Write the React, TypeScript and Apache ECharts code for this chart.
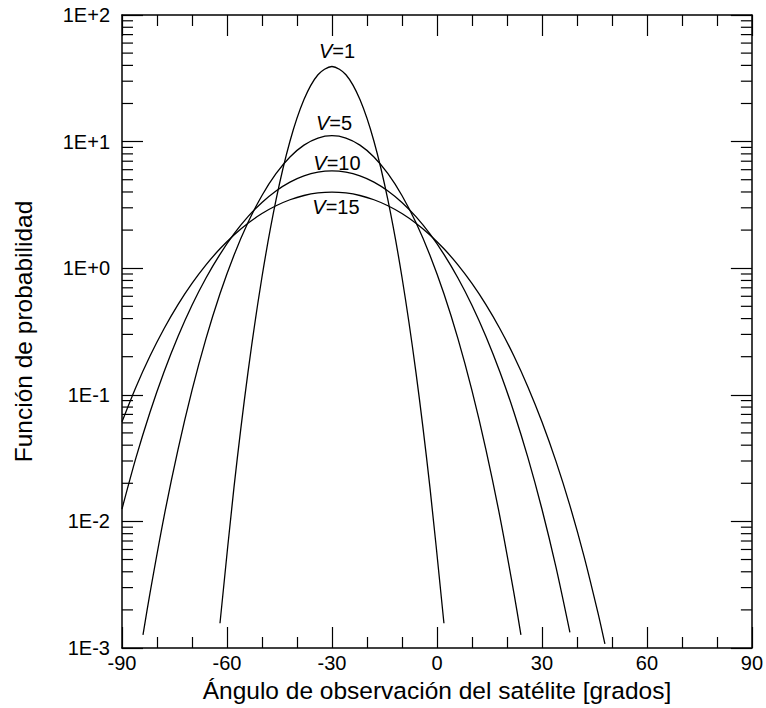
import React, { useEffect, useRef } from "react";
import * as echarts from "echarts";

// Observation angle (degrees) and probability values for each wind speed V
const angleV1 = [-62, -58, -54, -50, -46, -42, -38, -34, -30, -26, -22, -18, -14, -10, -6, -2, 2];
const probV1 = [0.001569, 0.01856, 0.1502, 0.8519, 3.442, 10.06, 21.47, 33.74, 39.2, 33.74, 21.47, 10.06, 3.442, 0.8519, 0.1502, 0.01856, 0.001569];

const angleV5 = [-84, -82, -78, -74, -70, -66, -62, -58, -54, -50, -46, -42, -38, -34, -30, -26, -22, -18, -14, -10, -6, -2, 2, 6, 10, 14, 18, 22, 24];
const probV5 = [0.001271, 0.002718, 0.010874, 0.03696, 0.10836, 0.2776, 0.628, 1.266, 2.293, 3.753, 5.579, 7.564, 9.381, 10.666, 11.13, 10.666, 9.381, 7.564, 5.579, 3.753, 2.293, 1.266, 0.628, 0.2776, 0.10836, 0.03696, 0.010874, 0.002718, 0.001271];

const angleV10 = [-90, -86, -82, -78, -74, -70, -66, -62, -58, -54, -50, -46, -42, -38, -34, -30, -26, -22, -18, -14, -10, -6, -2, 2, 6, 10, 14, 18, 22, 26, 30, 34, 38];
const probV10 = [0.01253, 0.03188, 0.0729, 0.1515, 0.289, 0.5098, 0.8373, 1.288, 1.865, 2.552, 3.309, 4.079, 4.79, 5.366, 5.742, 5.873, 5.742, 5.366, 4.79, 4.079, 3.309, 2.552, 1.865, 1.288, 0.8373, 0.5098, 0.289, 0.1515, 0.0729, 0.03188, 0.01253, 0.004366, 0.001328];

const angleV15 = [-90, -86, -82, -78, -74, -70, -66, -62, -58, -54, -50, -46, -42, -38, -34, -30, -26, -22, -18, -14, -10, -6, -2, 2, 6, 10, 14, 18, 22, 26, 30, 34, 38, 42, 46, 48];
const probV15 = [0.06119, 0.1154, 0.2024, 0.3327, 0.5158, 0.7583, 1.0624, 1.4235, 1.83, 2.264, 2.702, 3.114, 3.473, 3.752, 3.928, 3.989, 3.928, 3.752, 3.473, 3.114, 2.702, 2.264, 1.83, 1.4235, 1.0624, 0.7583, 0.5158, 0.3327, 0.2024, 0.1154, 0.06119, 0.02991, 0.01333, 0.005345, 0.0019, 0.001076];

const windNames = ["1", "5", "10", "15"];
const peakAngle = -30;

// Decade tick labels on the probability axis, keyed by exponent
const yTickLabels: Record<string, string> = {
  "-3": "1E-3",
  "-2": "1E-2",
  "-1": "1E-1",
  "0": "1E+0",
  "1": "1E+1",
  "2": "1E+2",
};
const yMin = 0.001;
const yMax = 100;
const xMin = -90;
const xMax = 90;
const xInterval = 30;

const xTitle = "Ángulo de observación del satélite [grados]";
const yTitle = "Función de probabilidad";

const FONT = "'Liberation Sans', Arial, Helvetica, sans-serif";
const INK = "#000";
const TICK_FONT = 20;
const TITLE_FONT = 24.5;

export default function App() {
  const ref = useRef<HTMLDivElement>(null);

  useEffect(() => {
    if (!ref.current) return;
    const chart = echarts.init(ref.current, undefined, { renderer: "svg" });

    // minor log ticks 2..9 within each decade
    const minorTicks: number[][] = [];
    for (let e = -3; e < 2; e++) {
      for (let m = 2; m <= 9; m++) minorTicks.push([xMin, m * Math.pow(10, e)]);
    }

    const zip = (xs: number[], ys: number[]) => xs.map((x, i) => [x, ys[i]]);
    const curves = [
      zip(angleV1, probV1),
      zip(angleV5, probV5),
      zip(angleV10, probV10),
      zip(angleV15, probV15),
    ];
    const peaks = [probV1, probV5, probV10, probV15].map((ys) => Math.max(...ys));

    // label placement around each curve's maximum
    const labelPos = [
      { position: "top", distance: 5, offset: [5, 0] },
      { position: "top", distance: 3, offset: [2, 0] },
      { position: "top", distance: -2, offset: [5, 0] },
      { position: "bottom", distance: 5, offset: [4, 0] },
    ];

    const axisLine = { show: true, onZero: false, lineStyle: { color: INK, width: 1.5 } };
    const tickStyle = { color: INK, width: 1.2 };

    const lineSeries = curves.map((data, i) => ({
      type: "line",
      name: "V=" + windNames[i],
      data,
      xAxisIndex: 0,
      yAxisIndex: 0,
      showSymbol: false,
      smooth: 0.3,
      lineStyle: { color: INK, width: 1.3 },
      markPoint: {
        symbol: "circle",
        symbolSize: 0,
        itemStyle: { color: "transparent" },
        data: [
          {
            coord: [peakAngle, peaks[i]],
            label: {
              show: true,
              position: labelPos[i].position,
              distance: labelPos[i].distance,
              offset: labelPos[i].offset,
              formatter: "{v|V}=" + windNames[i],
              color: INK,
              fontSize: TICK_FONT,
              fontFamily: FONT,
              rich: {
                v: { fontStyle: "italic", fontSize: TICK_FONT, fontFamily: FONT, color: INK },
              },
            },
          },
        ],
      },
    }));

    chart.setOption({
      animation: false,
      backgroundColor: "#fff",
      grid: { left: 122, right: 10, top: 15, bottom: 60, containLabel: false },
      xAxis: [
        {
          type: "value",
          position: "bottom",
          min: xMin,
          max: xMax,
          interval: xInterval,
          axisLine,
          axisTick: { show: true, inside: true, length: 21, lineStyle: tickStyle },
          minorTick: { show: true, splitNumber: 3, length: 11, lineStyle: tickStyle },
          splitLine: { show: false },
          axisLabel: { color: INK, fontSize: TICK_FONT, fontFamily: FONT, margin: 5 },
          name: xTitle,
          nameLocation: "middle",
          nameGap: 30,
          nameTextStyle: { color: INK, fontSize: TITLE_FONT, fontFamily: FONT },
        },
        {
          type: "value",
          position: "top",
          min: xMin,
          max: xMax,
          interval: xInterval,
          axisLine,
          axisTick: { show: true, inside: true, length: 21, lineStyle: tickStyle },
          minorTick: { show: true, splitNumber: 3, length: 11, lineStyle: tickStyle },
          splitLine: { show: false },
          axisLabel: { show: false },
        },
      ],
      yAxis: [
        {
          type: "log",
          logBase: 10,
          position: "left",
          min: yMin,
          max: yMax,
          axisLine,
          axisTick: { show: true, inside: true, length: 21, lineStyle: tickStyle },
          splitLine: { show: false },
          axisLabel: {
            color: INK,
            fontSize: TICK_FONT,
            fontFamily: FONT,
            margin: 12,
            formatter: (v: number) => yTickLabels[String(Math.round(Math.log10(v)))] ?? "",
          },
          name: yTitle,
          nameLocation: "middle",
          nameGap: 86,
          nameTextStyle: { color: INK, fontSize: TITLE_FONT, fontFamily: FONT },
        },
        {
          type: "log",
          logBase: 10,
          position: "right",
          min: yMin,
          max: yMax,
          axisLine,
          axisTick: { show: true, inside: true, length: 21, lineStyle: tickStyle },
          splitLine: { show: false },
          axisLabel: { show: false },
        },
      ],
      series: [
        ...lineSeries,
        {
          type: "custom",
          name: "minorTicks",
          xAxisIndex: 0,
          yAxisIndex: 0,
          silent: true,
          clip: false,
          data: minorTicks,
          renderItem: (_params: any, api: any) => {
            const v = api.value(1);
            const l = api.coord([xMin, v]);
            const r = api.coord([xMax, v]);
            return {
              type: "group",
              children: [
                { type: "line", shape: { x1: l[0], y1: l[1], x2: l[0] + 11, y2: l[1] }, style: { stroke: INK, lineWidth: 1.2 } },
                { type: "line", shape: { x1: r[0] - 11, y1: r[1], x2: r[0], y2: r[1] }, style: { stroke: INK, lineWidth: 1.2 } },
              ],
            };
          },
        },
      ],
    });

    return () => chart.dispose();
  }, []);

  return (
    <div
      ref={ref}
      style={{ position: "absolute", left: 0, top: 0, width: 766, height: 708, background: "#fff" }}
    />
  );
}
